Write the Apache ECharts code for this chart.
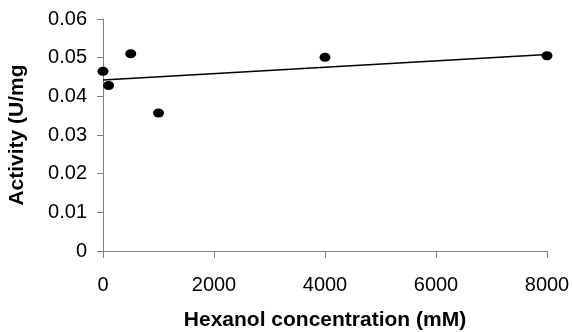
<!DOCTYPE html>
<html>
<head>
<meta charset="utf-8">
<script src="https://cdn.jsdelivr.net/npm/echarts@6/dist/echarts.min.js"></script>
<style>
    html, body { margin: 0; padding: 0; background: #fff; }
    #main { width: 572px; height: 332px; }
</style>
</head>
<body>
<div id="main"></div>
<script>
// data
var concentration = [0, 100, 500, 1000, 4000, 8000];
var activity = [0.0465, 0.0428, 0.0510, 0.0357, 0.0501, 0.0505];
// trend line end points (as drawn in the figure)
var trendX = [0, 8000];
var trendY = [0.0442, 0.0508];

var xTicks = { min: 0, max: 8000, interval: 2000 };
var yTicks = { min: 0, max: 0.06, interval: 0.01 };

var points = [];
for (var i = 0; i < concentration.length; i++) {
    points.push([concentration[i], activity[i]]);
}
var trend = [];
for (var j = 0; j < trendX.length; j++) {
    trend.push([trendX[j], trendY[j]]);
}

var myChart = echarts.init(document.getElementById('main'));
var axisColor = '#808080';
var font = 'Liberation Sans, Arial, sans-serif';

var option = {
    backgroundColor: '#fff',
    animation: false,
    grid: {
        left: 103,
        right: 25,
        top: 19,
        bottom: 81,
        containLabel: false,
        outerBoundsMode: 'none'
    },
    xAxis: {
        type: 'value',
        min: xTicks.min,
        max: xTicks.max,
        interval: xTicks.interval,
        name: 'Hexanol concentration (mM)',
        nameLocation: 'middle',
        nameGap: 59,
        nameTextStyle: {
            color: '#000',
            fontFamily: font,
            fontSize: 21,
            fontWeight: 'bold'
        },
        axisLine: { show: true, lineStyle: { color: axisColor, width: 1 } },
        axisTick: { show: true, inside: false, length: 7, lineStyle: { color: axisColor } },
        axisLabel: {
            margin: 24,
            color: '#000',
            fontFamily: font,
            fontSize: 20,
            formatter: function (v) {
                return String(v);
            }
        },
        splitLine: { show: false }
    },
    yAxis: {
        type: 'value',
        min: yTicks.min,
        max: yTicks.max,
        interval: yTicks.interval,
        name: 'Activity (U/mg',
        nameLocation: 'middle',
        nameGap: 75,
        nameRotate: 90,
        nameTextStyle: {
            color: '#000',
            fontFamily: font,
            fontSize: 21,
            fontWeight: 'bold'
        },
        axisLine: { show: true, lineStyle: { color: axisColor, width: 1 } },
        axisTick: { show: true, inside: false, length: 6, lineStyle: { color: axisColor } },
        axisLabel: {
            margin: 16,
            color: '#000',
            fontFamily: font,
            fontSize: 20
        },
        splitLine: { show: false }
    },
    series: [
        {
            type: 'line',
            data: trend,
            symbol: 'none',
            silent: true,
            lineStyle: { color: '#000', width: 1.5 },
            z: 2
        },
        {
            type: 'scatter',
            data: points,
            symbol: 'circle',
            symbolSize: [11, 9],
            itemStyle: { color: '#000', opacity: 1 },
            z: 3
        }
    ]
};

myChart.setOption(option);
window.addEventListener("resize", function () {
    myChart.resize();
});
</script>
</body>
</html>
